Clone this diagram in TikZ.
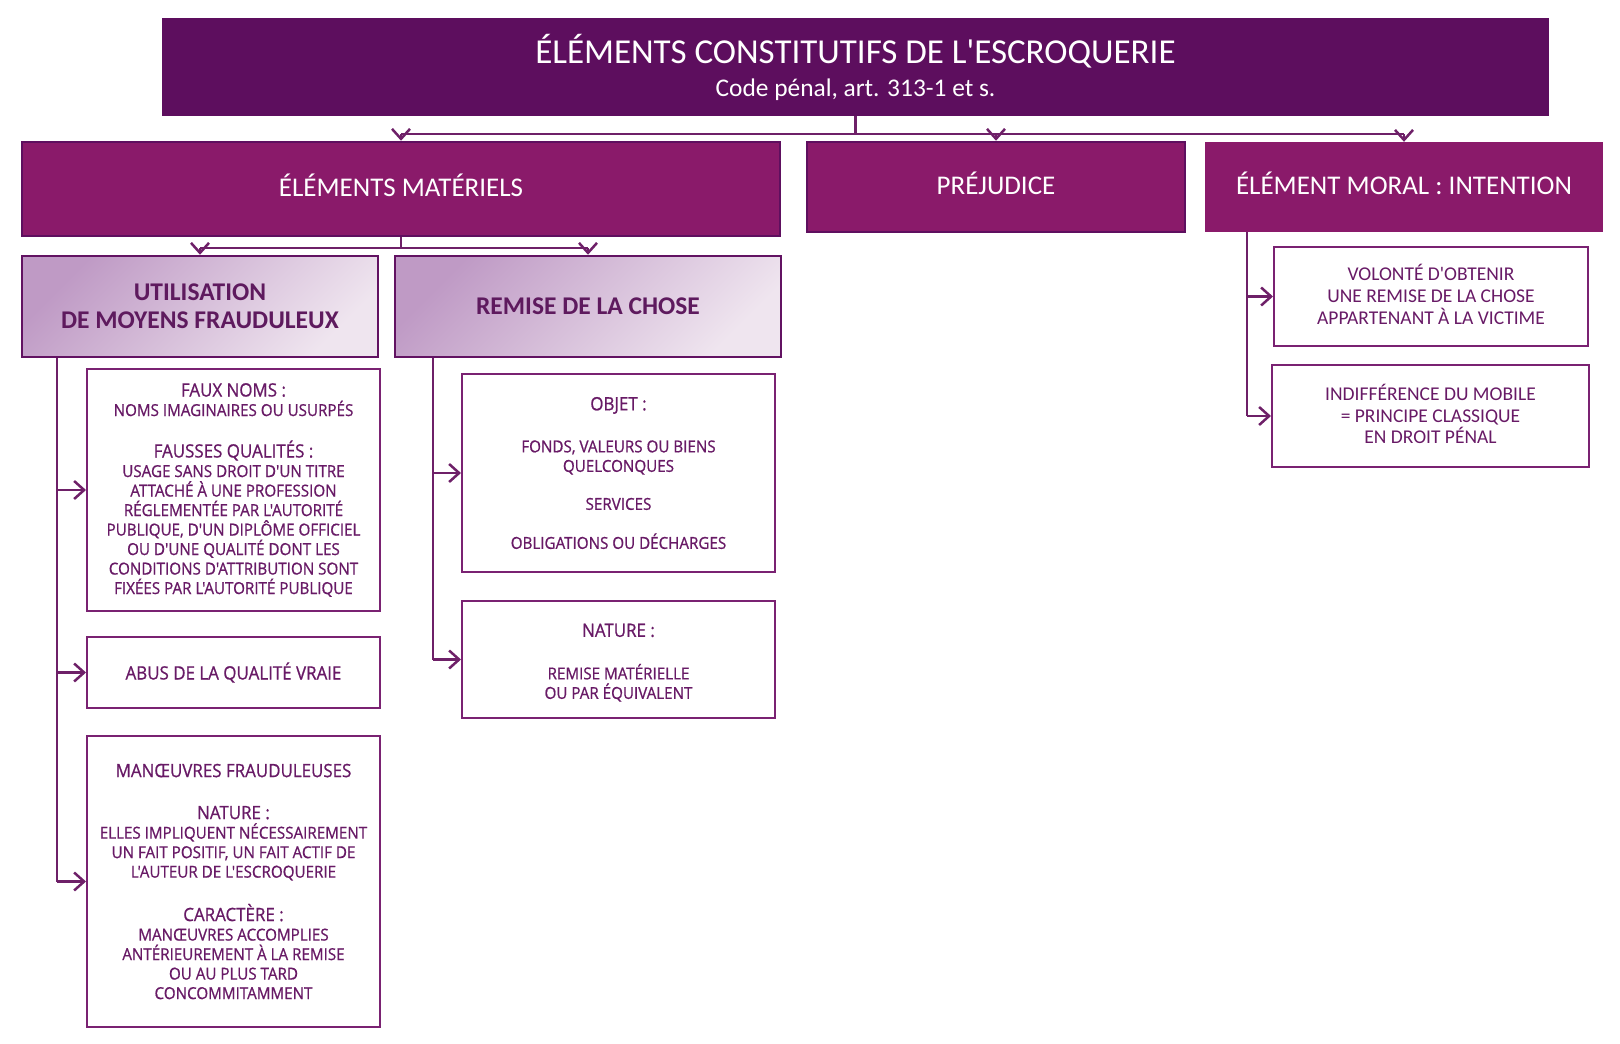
\documentclass[tikz,border=0pt]{standalone}
\usepackage{fontspec}
\newfontfamily\calfont{Carlito}
\newfontfamily\segfont[FakeStretch=0.92,FakeBold=0.8]{Open Sans}
\usetikzlibrary{arrows.meta,calc}
\definecolor{titlebg}{HTML}{5D0E5E}
\definecolor{lvlbg}{HTML}{8A1A6A}
\definecolor{lvlborder}{HTML}{5E0F5F}
\definecolor{txt}{HTML}{681A66}
\definecolor{txtdark}{HTML}{5E1A5E}
\definecolor{boxline}{HTML}{7A2272}
\definecolor{conn}{HTML}{6E2068}
\definecolor{gradA}{HTML}{BF9AC5}
\definecolor{gradB}{HTML}{EFE5EF}
\newcommand\hdsize{\fontsize{18.4}{19.5}\selectfont}
\newcommand\bdsize{\fontsize{16.5}{19.5}\selectfont}
\newcommand\mkbox[7]{\node[#2,minimum width={#5-#3},minimum height={#6-#4}] (#1) at ({(#3+#5)/2},{(#4+#6)/2}) {#7};}
\tikzset{
  titlebox/.style={fill=titlebg,draw=none,text=white,align=center,inner sep=0pt,font=\calfont\fontsize{35}{33}\selectfont},
  lvlbox/.style={fill=lvlbg,draw=lvlborder,line width=2.5pt,text=white,align=center,inner sep=0pt,text depth=7pt,font=\calfont\fontsize{27}{30}\selectfont},
  lvlbare/.style={fill=lvlbg,draw=none,text=white,align=center,inner sep=0pt,text depth=7pt,font=\calfont\fontsize{27}{30}\selectfont},
  gradbox/.style={draw=lvlborder!85!boxline,line width=2.5pt,top color=gradA,bottom color=gradB,shading angle=45,text=txtdark,align=center,inner sep=0pt,font=\calfont\bfseries\fontsize{25.5}{28}\selectfont},
  leafbox/.style={draw=boxline,line width=2pt,fill=white,text=txt,align=center,inner sep=0pt,font=\segfont\bdsize},
  moralbox/.style={draw=boxline,line width=2pt,fill=white,text=txt,align=center,inner sep=0pt,text depth=4pt,font=\calfont\fontsize{19.5}{21.7}\selectfont},
  conn/.style={draw=conn,line width=2.5pt},
  arr/.style={draw=conn,line width=2.5pt,-{Straight Barb[length=10pt,width=18pt,line width=2.5pt]}}
}
\begin{document}
\begin{tikzpicture}[x=1pt,y=-1pt]
\useasboundingbox[fill=white] (0,0) rectangle (1620,1044);
% title
\mkbox{title}{titlebox}{162}{18}{1549}{116}{ÉLÉMENTS CONSTITUTIFS DE L'ESCROQUERIE\\{\fontsize{25.4}{33}\selectfont Code pénal, art. 313-1 et s.}}
% level 2
\mkbox{mat}{lvlbox}{22}{142}{780}{236}{ÉLÉMENTS MATÉRIELS}
\mkbox{prej}{lvlbox}{807}{142}{1185}{232}{PRÉJUDICE}
\mkbox{moral}{lvlbare}{1205}{142}{1603}{232}{ÉLÉMENT MORAL : INTENTION}
% level 3
\mkbox{util}{gradbox}{22}{256}{378}{357}{UTILISATION\\DE MOYENS FRAUDULEUX}
\mkbox{remise}{gradbox}{395}{256}{781}{357}{REMISE DE LA CHOSE}
% leaves left
\mkbox{faux}{leafbox}{87}{369}{380}{611}{{\hdsize FAUX NOMS :}\\NOMS IMAGINAIRES OU USURPÉS\\[22pt]{\hdsize FAUSSES QUALITÉS :}\\USAGE SANS DROIT D'UN TITRE\\ATTACHÉ À UNE PROFESSION\\RÉGLEMENTÉE PAR L'AUTORITÉ\\PUBLIQUE, D'UN DIPLÔME OFFICIEL\\OU D'UNE QUALITÉ DONT LES\\CONDITIONS D'ATTRIBUTION SONT\\FIXÉES PAR L'AUTORITÉ PUBLIQUE}
\mkbox{abus}{leafbox}{87}{637}{380}{708}{{\hdsize ABUS DE LA QUALITÉ VRAIE}}
\mkbox{man}{leafbox}{87}{736}{380}{1027}{{\hdsize MANŒUVRES FRAUDULEUSES}\\[22.5pt]{\hdsize NATURE :}\\ELLES IMPLIQUENT NÉCESSAIREMENT\\UN FAIT POSITIF, UN FAIT ACTIF DE\\L'AUTEUR DE L'ESCROQUERIE\\[22.5pt]{\hdsize CARACTÈRE :}\\MANŒUVRES ACCOMPLIES\\ANTÉRIEUREMENT À LA REMISE\\OU AU PLUS TARD\\CONCOMMITAMMENT}
% leaves remise
\mkbox{objet}{leafbox}{462}{374}{775}{572}{{\hdsize OBJET :}\\[22.5pt]FONDS, VALEURS OU BIENS\\QUELCONQUES\\[18.5pt]SERVICES\\[19.5pt]OBLIGATIONS OU DÉCHARGES}
\mkbox{nature}{leafbox}{462}{601}{775}{718}{\rule{0pt}{19.5pt}{\hdsize NATURE :}\\[23pt]REMISE MATÉRIELLE\\OU PAR ÉQUIVALENT}
% leaves moral
\mkbox{volonte}{moralbox}{1274}{247}{1588}{346}{VOLONTÉ D'OBTENIR\\UNE REMISE DE LA CHOSE\\APPARTENANT À LA VICTIME}
\mkbox{indiff}{moralbox}{1272}{365}{1589}{467}{INDIFFÉRENCE DU MOBILE\\= PRINCIPE CLASSIQUE\\EN DROIT PÉNAL}
% connectors level 1 -> 2
\coordinate (bus1) at (855,134);
\draw[conn] (title.south) -- (title.south |- bus1);
\draw[conn,line width=2pt] (mat.north |- bus1) -- (moral.north |- bus1);
\draw[arr] (mat.north |- bus1) -- (mat.north);
\draw[arr] (prej.north |- bus1) -- (prej.north);
\draw[arr] (moral.north |- bus1) -- (moral.north);
% mat -> level 3
\coordinate (bus2) at (401,248);
\draw[conn] (mat.south) -- (mat.south |- bus2);
\draw[conn,line width=2pt] (util.north |- bus2) -- (remise.north |- bus2);
\draw[arr] (util.north |- bus2) -- (util.north);
\draw[arr] (remise.north |- bus2) -- (remise.north);
% left spine
\coordinate (sp1) at (57,0);
\draw[conn] (util.south -| sp1) -- (man.west -| sp1);
\draw[arr] (faux.west -| sp1) -- (faux.west);
\draw[arr] (abus.west -| sp1) -- (abus.west);
\draw[arr] (man.west -| sp1) -- (man.west);
% remise spine
\coordinate (sp2) at (433,0);
\draw[conn] (remise.south -| sp2) -- (nature.west -| sp2);
\draw[arr] (objet.west -| sp2) -- (objet.west);
\draw[arr] (nature.west -| sp2) -- (nature.west);
% moral spine
\coordinate (sp3) at (1247,0);
\draw[conn] (moral.south -| sp3) -- (indiff.west -| sp3);
\draw[arr] (volonte.west -| sp3) -- (volonte.west);
\draw[arr] (indiff.west -| sp3) -- (indiff.west);
\end{tikzpicture}
\end{document}
